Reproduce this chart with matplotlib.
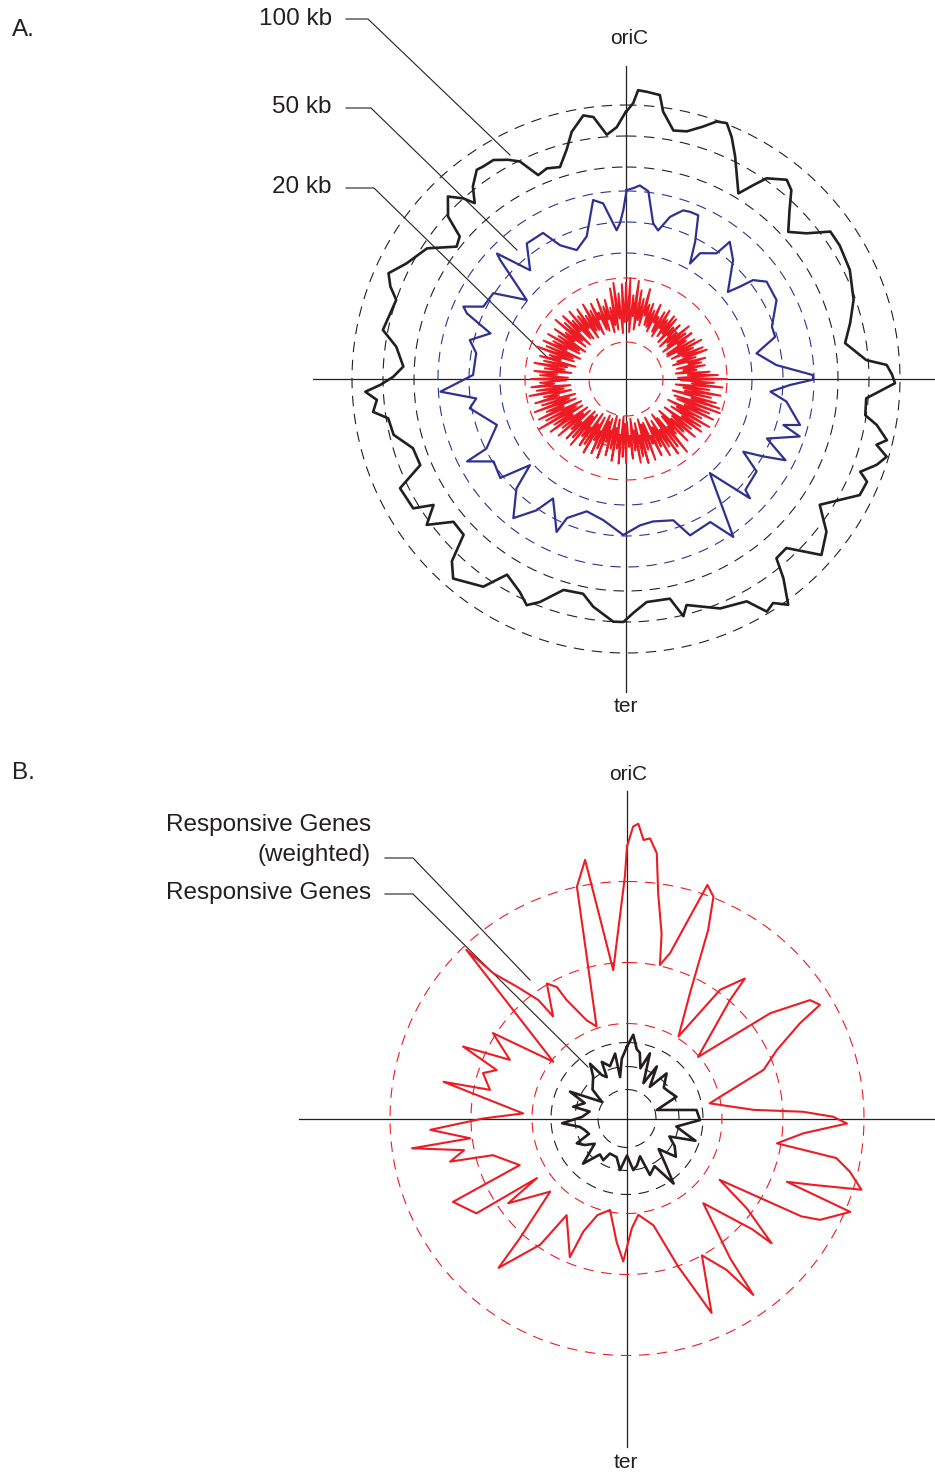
import numpy as np
import matplotlib
matplotlib.use('Agg')
import matplotlib.pyplot as plt

plt.rcParams['font.family'] = ['Liberation Sans', 'DejaVu Sans']
plt.rcParams['lines.scale_dashes'] = False

BLACK = '#231f20'
RED = '#ed1c24'
BLUE = '#2e3192'

# ---------------- data (radius in display units, angle in degrees clockwise from oriC) -------------
# Panel A, 100 kb window
a100_theta = [0, 1.5, 2.4, 4.1, 6.8, 7.9, 10.8, 13.8, 17, 19.4, 21.5, 23.6, 26.1, 31.2, 33.3, 35, 38.9,
              41.2, 44.1, 47.8, 51.1, 54.2, 58, 64, 70.8, 76, 80.7, 85.5, 86.9, 89, 90.9, 94.6, 98.6,
              100.4, 103.2, 104.7, 106.6, 108.9, 111.6, 113.1, 116.4, 123, 127.3, 132, 136.5, 140, 141.7,
              144.3, 146.7, 148.8, 151.5, 157.7, 165, 166.4, 168.7, 174.7, 178.2, 180.6, 183, 188.2, 191.3,
              196.5, 201.1, 203.7, 206.5, 211.3, 214.5, 220.9, 223.7, 226.2, 230.4, 233.8, 236.8, 238.7,
              244.2, 247.3, 252, 256.5, 260.6, 262.6, 265.2, 267.2, 268.6, 270.5, 273.2, 278, 281.4, 289,
              291.4, 294, 297.8, 303.3, 308, 310.6, 312.4, 315.7, 318, 319.3, 321.5, 324.5, 326.1, 328.8,
              331.7, 334, 336.7, 339.4, 342.7, 345.5, 347.6, 350.8, 352.9, 355.5, 357.9, 359.8]
a100_r = [267, 276, 289, 288, 286, 270, 253, 255, 264, 273, 275, 264, 248, 217, 232, 245, 256,
          251, 235, 219, 232, 252, 252, 249, 241, 231, 222, 241, 261, 266, 269, 241, 242,
          255, 268, 259, 272, 265, 252, 262, 261, 231, 252, 263, 233, 234, 254,
          278, 268, 272, 253, 248, 234, 244, 224, 224, 234, 243, 243, 230, 219,
          220, 239, 247, 238, 229, 252, 264, 252, 225, 224, 247, 230, 249,
          251, 223, 224, 239, 241, 255, 250, 261, 246, 233, 223, 232, 248, 243,
          253, 260, 248, 238, 215, 219, 241, 255, 243, 232, 246, 257, 256, 256,
          249, 242, 222, 225, 222, 237, 253, 267, 264, 245, 252, 266]

# Panel A, 50 kb window
a50_theta = [0.2, 2.2, 4.1, 6.8, 9.9, 12.2, 15.2, 18.7, 20.9, 23.8, 26.7, 29, 30.5, 35.8, 37.1, 42,
             49.5, 51, 52.1, 55.3, 62.3, 70.3, 74.2, 78.9, 84.7, 88.8, 90.2, 92.1, 95, 98, 104.8, 106.3,
             108.3, 112.9, 117, 119.5, 121.8, 125.3, 132.9, 133.9, 138.3, 145.8, 149.5, 157.7, 161.5,
             169.2, 174.5, 181, 189.1, 196.5, 203, 204.4, 211.4, 214.3, 219, 225, 228.1, 231.8, 238.1,
             242.6, 243.5, 250.4, 259.4, 262.6, 266.1, 271.5, 279.8, 284, 288.6, 292.4, 294, 296.9,
             302.9, 308.5, 313.4, 314.2, 316.6, 318.6, 323.8, 330.4, 333.8, 339.1, 344.6, 349.6, 352.6,
             356.4, 357.8, 359.1]
a50_r = [189, 191, 194, 189, 158, 152, 168, 178, 179, 179, 154, 132, 146, 155, 172, 160,
         134, 147, 161, 171, 170, 155, 155, 133, 151, 187, 187, 164, 145, 162, 180, 164,
         183, 153, 179, 157, 138, 160, 163, 172, 126, 191, 166, 169, 149,
         145, 147, 156, 143, 138, 151, 168, 140, 159, 179, 155, 129, 160, 156,
         179, 156, 137, 159, 151, 186, 153, 152, 161, 143, 172, 178, 160,
         158, 127, 173, 180, 159, 145, 168, 168, 149, 138, 148, 182, 177,
         149, 156, 169]

# Panel A, 20 kb window (evenly spaced samples around the genome)
a20_r = [96, 58, 101, 47, 84, 63, 99, 50,
         90, 60, 82, 55, 93, 66, 78, 57,
         80, 56, 74, 52, 82, 63, 70, 54,
         77, 50, 81, 61, 72, 53, 79, 58,
         78, 49, 70, 60, 76, 47, 68, 55,
         82, 53, 75, 46, 80, 62, 71, 48,
         79, 47, 85, 58, 74, 50, 83, 61,
         86, 54, 73, 49, 82, 64, 77, 52,
         80, 58, 71, 50, 84, 62, 92, 52,
         101, 55, 88, 66, 97, 50, 84, 58,
         96, 60, 87, 48, 93, 68, 98, 51,
         100, 55, 90, 64, 96, 47, 85, 58,
         96, 53, 88, 67, 92, 48, 82, 59,
         90, 60, 78, 46, 87, 52, 74, 63,
         95, 50, 85, 44, 91, 61, 80, 49,
         88, 55, 76, 43, 84, 62, 70, 47,
         86, 48, 74, 42, 87, 58, 79, 45,
         85, 52, 72, 40, 80, 57, 68, 43,
         84, 45, 78, 38, 85, 56, 70, 41,
         83, 50, 71, 38, 79, 54, 66, 42,
         84, 46, 75, 40, 82, 58, 69, 44,
         85, 53, 77, 42, 81, 60, 72, 46,
         86, 50, 79, 45, 84, 62, 74, 48,
         88, 55, 80, 48, 92, 64, 85, 51,
         100, 57, 90, 50, 96, 68, 86, 54,
         97, 60, 88, 53, 94, 70, 84, 56,
         98, 63, 90, 56, 95, 72, 86, 60,
         95, 58, 86, 70, 92, 55, 82, 62,
         93, 60, 84, 52, 89, 68, 80, 55,
         95, 57, 86, 50, 91, 66, 82, 53,
         90, 55, 80, 49, 87, 64, 76, 52,
         92, 58, 83, 50, 89, 66, 79, 54,
         88, 52, 79, 63, 85, 50, 75, 57,
         86, 56, 77, 50, 83, 65, 72, 53,
         85, 51, 76, 62, 82, 48, 73, 55,
         92, 50, 97, 61, 86, 46, 95, 57]
a20_theta = np.arange(len(a20_r)) * 360.0 / len(a20_r)

# reference circles (dashed) for panel A
a100_rings = [212, 243, 274]
a50_rings = [126, 157, 188]
a20_rings = [37, 69, 101]

# Panel B, responsive genes (weighted)
bw_theta = [0, 1.2, 2.2, 3.4, 4.7, 6.4, 7.9, 10.6, 12.1, 14.6, 17.3, 19, 21.3, 23.3, 26.7, 32.1, 35.9,
            40.1, 41, 49.1, 53.7, 57.1, 59.5, 61.2, 65.4, 70.4, 79.6, 86.1, 87.8, 89.5, 91.3, 94.8, 99.4,
            100.7, 103.4, 106.9, 109.6, 111.6, 112.7, 117.7, 119.3, 123.5, 126.9, 130.8, 131.5, 138,
            143.6, 144.4, 146.7, 151.3, 156.5, 160.9, 166.1, 173.3, 177.5, 181.5, 184.8, 190.5, 197,
            201.1, 202.4, 212, 214.5, 220.7, 221.8, 226.4, 234.5, 236.5, 237.8, 244.4, 246.5, 254.7,
            256.3, 259, 262.1, 262.8, 266.7, 270, 272.8, 281.3, 281.8, 287.5, 290.4, 293.7, 296.6,
            302.5, 307.6, 316.4, 317.4, 320.1, 323.2, 324.1, 329.3, 331.9, 333, 337.7, 341.7, 347.8,
            350.8, 354.7, 359.5]
bw_r = [272, 292, 295, 279, 281, 267, 227, 188, 157, 171, 211, 247, 238, 205, 140, 97, 159,
        183, 157, 94, 178, 218, 224, 197, 165, 145, 84, 127, 176, 206, 220, 177, 152,
        213, 229, 245, 198, 172, 242, 218, 200, 111, 150, 191, 167, 114,
        174, 217, 181, 156, 212, 157, 110, 97, 110, 143, 124, 93, 101,
        121, 150, 114, 153, 197, 161, 106, 146, 108, 178, 193, 117, 139,
        182, 166, 217, 158, 197, 144, 104, 187, 140, 151, 139, 179, 131,
        159, 93, 233, 197, 172, 148, 126, 157, 149, 133, 106, 97, 237,
        262, 149, 242]

# Panel B, responsive genes (unweighted)
bu_theta = [0, 4.3, 8, 11, 15, 19.4, 24.9, 29.8, 35.8, 41.3, 50, 58, 66.3, 74, 83, 91.2, 99.3, 105,
            108, 113, 120, 128, 134, 140, 144.4, 150, 157.9, 161, 168, 173, 180, 187.7, 195, 206,
            209.7, 217, 224.2, 232, 238, 243.7, 248, 255, 260, 265.8, 272, 280.5, 282.4, 290, 295.2,
            303.6, 310, 321.2, 326, 330, 334, 336, 342, 349.6, 350.5, 355]
bu_r = [72, 84, 70, 67, 52, 69, 39, 60, 39, 60, 48, 50, 54, 31, 70, 73, 50, 62,
        72, 46, 55, 62, 44, 60, 80, 55, 61, 40, 48, 52, 37, 52, 40, 39,
        48, 45, 63, 41, 50, 56, 41, 44, 48, 65, 45, 38, 55, 45, 63,
        30, 45, 54, 66, 50, 46, 62, 55, 66, 42, 60]

bw_rings = [95, 156, 237]
bu_rings = [29, 52, 76]

# ---------------- figure ----------------
W, H = 935, 1478
fig = plt.figure(figsize=(W / 100, H / 100), dpi=100)

overlay = fig.add_axes([0, 0, 1, 1])
overlay.set_xlim(0, W)
overlay.set_ylim(H, 0)
overlay.axis('off')


def polar_axes(cx, cy, R):
    ax = fig.add_axes([(cx - R) / W, (H - cy - R) / H, 2 * R / W, 2 * R / H], projection='polar')
    ax.set_theta_zero_location('N')
    ax.set_theta_direction(-1)
    ax.set_ylim(0, R)
    ax.axis('off')
    return ax


def closed(theta, r):
    t = np.deg2rad(np.append(np.asarray(theta, float), theta[0] + 360.0))
    rr = np.append(np.asarray(r, float), r[0])
    return t, rr


def rings(ax, radii, color):
    t = np.linspace(0, 2 * np.pi, 721)
    for rad in radii:
        ax.plot(t, np.full_like(t, rad), color=color, lw=0.8, ls=(0, (7.5, 5.5)), zorder=1)


def crosshair(ax, length):
    for ang in (0, 90, 180, 270):
        ax.plot([np.deg2rad(ang)] * 2, [0, length], color=BLACK, lw=0.9, zorder=0, clip_on=False)


# Panel A
axA = polar_axes(626, 379, 316)
crosshair(axA, 313)
rings(axA, a100_rings, BLACK)
rings(axA, a50_rings, BLUE)
rings(axA, a20_rings, RED)
axA.plot(*closed(a100_theta, a100_r), color=BLACK, lw=1.9, zorder=3)
axA.plot(*closed(a50_theta, a50_r), color=BLUE, lw=1.6, zorder=3)
axA.plot(*closed(list(a20_theta), a20_r), color=RED, lw=1.4, zorder=3)

# Panel B
axB = polar_axes(627, 1118.5, 330)
crosshair(axB, 328)
rings(axB, bw_rings, RED)
rings(axB, bu_rings, BLACK)
axB.plot(*closed(bw_theta, bw_r), color=RED, lw=1.5, zorder=3)
axB.plot(*closed(bu_theta, bu_r), color=BLACK, lw=1.9, zorder=3)

# ---------------- text and leader lines ----------------
FS = 17.5
overlay.text(12, 30, 'A.', fontsize=FS, color=BLACK, ha='left', va='center')
overlay.text(12, 773, 'B.', fontsize=FS, color=BLACK, ha='left', va='center')
overlay.text(629, 38, 'oriC', fontsize=15, color=BLACK, ha='center', va='center')
overlay.text(626, 707, 'ter', fontsize=15, color=BLACK, ha='center', va='center')
overlay.text(628, 775, 'oriC', fontsize=15, color=BLACK, ha='center', va='center')
overlay.text(626, 1463, 'ter', fontsize=15, color=BLACK, ha='center', va='center')

labels_A = [('100 kb', 19, [346, 368, 510], [19, 19, 155]),
            ('50 kb', 107, [346, 371, 517], [108, 108, 250]),
            ('20 kb', 187, [346, 374, 547], [188, 188, 357])]
for txt, y, lx, ly in labels_A:
    overlay.text(332, y, txt, fontsize=FS, color=BLACK, ha='right', va='center')
    overlay.plot(lx, ly, color=BLACK, lw=0.8)

overlay.text(371, 825, 'Responsive Genes', fontsize=FS, color=BLACK, ha='right', va='center')
overlay.text(371, 855, '(weighted)', fontsize=FS, color=BLACK, ha='right', va='center')
overlay.text(371, 893, 'Responsive Genes', fontsize=FS, color=BLACK, ha='right', va='center')
overlay.plot([385, 413, 530], [858, 858, 980], color=BLACK, lw=0.8)
overlay.plot([385, 413, 588], [894, 894, 1067], color=BLACK, lw=0.8)

fig.savefig('out.png', dpi=100)
